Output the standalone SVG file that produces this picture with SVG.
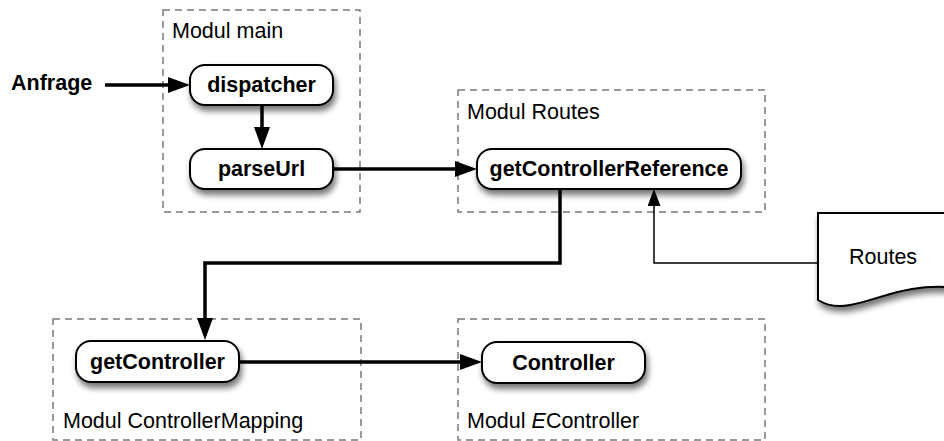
<svg xmlns="http://www.w3.org/2000/svg" width="944" height="441" viewBox="0 0 944 441">
  <defs>
    <filter id="shadow" x="-20%" y="-30%" width="150%" height="180%">
      <feGaussianBlur in="SourceAlpha" stdDeviation="3"/>
      <feOffset dx="2" dy="5" result="b"/>
      <feComponentTransfer><feFuncA type="linear" slope="0.55"/></feComponentTransfer>
      <feMerge><feMergeNode/><feMergeNode in="SourceGraphic"/></feMerge>
    </filter>
    <marker id="arrow" markerUnits="userSpaceOnUse" markerWidth="22" markerHeight="16" refX="12" refY="8" orient="auto">
      <path d="M0,0 L22,8 L0,16 Z" fill="#000"/>
    </marker>
    <marker id="arrowThin" markerUnits="userSpaceOnUse" markerWidth="17" markerHeight="13" refX="12" refY="6.5" orient="auto">
      <path d="M0,0 L17,6.5 L0,13 Z" fill="#000"/>
    </marker>
  </defs>
  <style>
    .module { fill: none; stroke: #7a7a7a; stroke-width: 1.5; stroke-dasharray: 7 5; }
    .node rect, .doc path { fill: #fff; stroke: #000; stroke-width: 2; filter: url(#shadow); }
    .label { font-family: "Liberation Sans", Arial, sans-serif; font-size: 21.5px; fill: #000; }
    .bold { font-weight: bold; }
    .c { text-anchor: middle; }
    .thick { fill: none; stroke: #000; stroke-width: 3.5; marker-end: url(#arrow); }
    .thin { fill: none; stroke: #000; stroke-width: 1.5; marker-end: url(#arrowThin); }
  </style>
  <rect width="944" height="441" fill="#fff"/>

  <g id="modules">
    <g id="module-main">
      <rect class="module" x="163" y="10" width="197" height="202"/>
      <text class="label" x="172" y="38">Modul main</text>
    </g>
    <g id="module-routes">
      <rect class="module" x="458" y="90" width="307" height="122"/>
      <text class="label" x="467" y="119">Modul Routes</text>
    </g>
    <g id="module-controllermapping">
      <rect class="module" x="53" y="319" width="308" height="121"/>
      <text class="label" x="63" y="428">Modul ControllerMapping</text>
    </g>
    <g id="module-econtroller">
      <rect class="module" x="458" y="319" width="307" height="121"/>
      <text class="label" x="467" y="428">Modul <tspan font-style="italic">E</tspan>Controller</text>
    </g>
  </g>

  <g id="anfrage">
    <text class="label bold" x="11" y="90">Anfrage</text>
  </g>

  <g id="connectors">
    <line class="thick" x1="105" y1="85" x2="180" y2="85"/>
    <line class="thick" x1="262" y1="105" x2="262" y2="139"/>
    <line class="thick" x1="333" y1="169" x2="467" y2="169"/>
    <polyline class="thick" points="560,189 560,263 205,263 205,330"/>
    <line class="thick" x1="239" y1="362" x2="472" y2="362"/>
    <polyline class="thin" points="818,263 654,263 654,194"/>
  </g>

  <g id="dispatcher" class="node">
    <rect x="190" y="65" width="143" height="40" rx="15"/>
    <text class="label bold c" x="261.5" y="92">dispatcher</text>
  </g>
  <g id="parseUrl" class="node">
    <rect x="190" y="149" width="143" height="40" rx="15"/>
    <text class="label bold c" x="261.5" y="176">parseUrl</text>
  </g>
  <g id="getControllerReference" class="node">
    <rect x="477" y="149" width="264" height="40" rx="15"/>
    <text class="label bold c" x="609" y="176">getControllerReference</text>
  </g>
  <g id="getController" class="node">
    <rect x="76" y="341" width="163" height="41" rx="15"/>
    <text class="label bold c" x="157.5" y="369">getController</text>
  </g>
  <g id="Controller" class="node">
    <rect x="482" y="342" width="163" height="41" rx="15"/>
    <text class="label bold c" x="563.5" y="370">Controller</text>
  </g>
  <g id="routes-doc" class="doc">
    <path d="M818,213 L960,213 L960,288 C905,282 880,300 850,305 C835,308 826,305 818,300 Z"/>
    <text class="label" x="849" y="264">Routes</text>
  </g>
</svg>
